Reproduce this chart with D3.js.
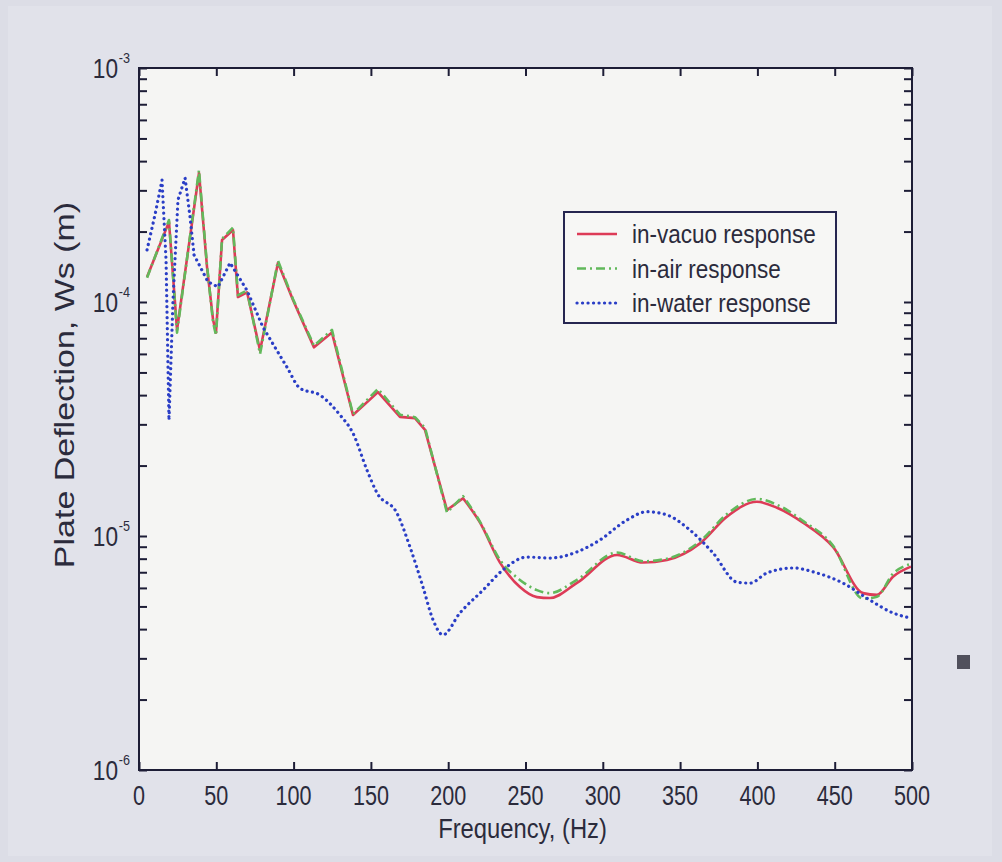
<!DOCTYPE html>
<html>
<head>
<meta charset="utf-8">
<script src="https://cdn.jsdelivr.net/npm/d3@7"></script>
<style>
  html, body { margin: 0; padding: 0; background: #dcdde6; }
  svg { display: block; }
  text { font-family: "Liberation Sans", Arial, sans-serif; fill: #2b2b3c; }
</style>
</head>
<body>
<svg id="chart" width="1002" height="862"></svg>
<script>
// Frequency (Hz) of each sample
const vacuoFreq = [5.2, 19.4, 24.6, 38.8, 44.0, 47.9, 49.8, 53.7, 60.8, 64.0, 69.9, 78.3, 89.9, 99.6,
  113.2, 124.8, 138.4, 154.6, 168.8, 178.5, 185.0, 199.2, 209.6, 220.6, 233.5, 246.4, 257.4, 265.8,
  283.3, 309.2, 326.0, 341.5, 362.9, 380.3, 399.7, 412.7, 429.5, 448.9, 468.3, 477.3, 487.7, 499.3];
// Plate deflection in vacuo (m)
const vacuoDefl = [1.28e-4, 2.20e-4, 7.6e-5, 3.56e-4, 1.41e-4, 8.4e-5, 7.4e-5, 1.84e-4, 2.03e-4, 1.05e-4,
  1.10e-4, 6.2e-5, 1.47e-4, 1.02e-4, 6.4e-5, 7.4e-5, 3.29e-5, 4.12e-5, 3.23e-5, 3.19e-5, 2.84e-5,
  1.29e-5, 1.45e-5, 1.14e-5, 7.7e-6, 6.05e-6, 5.48e-6, 5.43e-6, 6.3e-6, 8.3e-6, 7.7e-6, 7.9e-6,
  9.3e-6, 1.21e-5, 1.40e-5, 1.32e-5, 1.14e-5, 8.98e-6, 5.7e-6, 5.6e-6, 6.7e-6, 7.4e-6];

const airFreq = [5.2, 19.4, 24.6, 38.8, 44.0, 47.9, 49.8, 53.7, 60.8, 64.0, 69.9, 78.3, 89.9, 99.6,
  113.2, 124.8, 138.4, 154.6, 168.8, 178.5, 185.0, 199.2, 209.6, 220.6, 233.5, 246.4, 257.4, 265.8,
  283.3, 309.2, 326.0, 341.5, 362.9, 380.3, 399.7, 412.7, 429.5, 448.9, 468.3, 477.3, 487.7, 499.3];
// Plate deflection in air (m)
const airDefl = [1.27e-4, 2.24e-4, 7.4e-5, 3.66e-4, 1.43e-4, 8.2e-5, 7.2e-5, 1.86e-4, 2.08e-4, 1.07e-4,
  1.12e-4, 6.0e-5, 1.50e-4, 1.03e-4, 6.5e-5, 7.6e-5, 3.32e-5, 4.25e-5, 3.30e-5, 3.22e-5, 2.90e-5,
  1.26e-5, 1.48e-5, 1.15e-5, 7.9e-6, 6.49e-6, 5.87e-6, 5.7e-6, 6.5e-6, 8.5e-6, 7.8e-6, 8.0e-6,
  9.5e-6, 1.24e-5, 1.44e-5, 1.36e-5, 1.16e-5, 9.1e-6, 5.4e-6, 5.5e-6, 6.9e-6, 7.6e-6];

const waterFreq = [5.2, 10.3, 14.9, 17.5, 19.4, 22.0, 25.2, 29.8, 33.0, 35.6, 44.6, 51.1, 58.9, 69.9,
  80.2, 95.7, 104.1, 117.1, 130.0, 138.4, 147.5, 153.9, 166.9, 175.3, 183.7, 190.2, 196.6, 207.6,
  222.5, 235.4, 251.0, 265.8, 283.3, 298.2, 315.6, 328.6, 341.5, 356.4, 371.3, 386.8, 395.2, 406.2,
  423.0, 438.5, 455.4, 472.8, 487.7, 499.3];
// Plate deflection in water (m)
const waterDefl = [1.67e-4, 2.35e-4, 3.32e-4, 1.51e-4, 3.13e-5, 1.02e-4, 2.73e-4, 3.39e-4, 2.31e-4,
  1.59e-4, 1.22e-4, 1.16e-4, 1.47e-4, 1.12e-4, 7.8e-5, 5.27e-5, 4.28e-5, 4.0e-5, 3.29e-5, 2.75e-5,
  1.91e-5, 1.53e-5, 1.25e-5, 8.97e-6, 6.05e-6, 4.38e-6, 3.78e-6, 4.69e-6, 5.87e-6, 7.16e-6, 8.13e-6,
  8.05e-6, 8.55e-6, 9.62e-6, 1.17e-5, 1.27e-5, 1.23e-5, 1.06e-5, 8.46e-6, 6.35e-6, 6.29e-6, 6.95e-6,
  7.3e-6, 6.95e-6, 6.29e-6, 5.32e-6, 4.69e-6, 4.46e-6];

const xTicks = [0, 50, 100, 150, 200, 250, 300, 350, 400, 450, 500];
const yDecades = [1e-6, 1e-5, 1e-4, 1e-3];
const yExponents = ["-6", "-5", "-4", "-3"];
const seriesNames = ["in-vacuo response", "in-air response", "in-water response"];
const xTitle = "Frequency, (Hz)";
const yTitle = "Plate Deflection, Ws (m)";

const svg = d3.select("#chart");
const plot = { left: 139, right: 912, top: 68, bottom: 770 };

// soft panel behind the figure
svg.append("rect").attr("x", 0).attr("y", 0).attr("width", 1002).attr("height", 862).attr("fill", "#dcdde6");
svg.append("rect").attr("x", 8).attr("y", 6).attr("width", 984).attr("height", 850).attr("fill", "#e1e2ea");

const x = d3.scaleLinear().domain([0, 500]).range([plot.left, plot.right]);
const y = d3.scaleLog().domain([1e-6, 1e-3]).range([plot.bottom, plot.top]);

svg.append("rect")
  .attr("x", plot.left).attr("y", plot.top)
  .attr("width", plot.right - plot.left).attr("height", plot.bottom - plot.top)
  .attr("fill", "#f5f5f3");

const axisColor = "#1d1d36";
const tickLen = 8;

// x ticks on bottom and top, pointing inward
const xAxisBottom = d3.axisBottom(x).tickValues(xTicks).tickSizeInner(-tickLen).tickSizeOuter(0).tickFormat("");
const xAxisTop = d3.axisTop(x).tickValues(xTicks).tickSizeInner(-tickLen).tickSizeOuter(0).tickFormat("");
// y ticks (decades and 2..9 minors) on left and right, pointing inward
const yTickVals = y.ticks();
const yAxisLeft = d3.axisLeft(y).tickValues(yTickVals).tickSizeInner(-tickLen).tickSizeOuter(0).tickFormat("");
const yAxisRight = d3.axisRight(y).tickValues(yTickVals).tickSizeInner(-tickLen).tickSizeOuter(0).tickFormat("");

function styleAxis(g) {
  g.select(".domain").remove();
  g.selectAll(".tick line").attr("stroke", axisColor).attr("stroke-width", 2);
}
svg.append("g").attr("transform", `translate(0,${plot.bottom})`).call(xAxisBottom).call(styleAxis);
svg.append("g").attr("transform", `translate(0,${plot.top})`).call(xAxisTop).call(styleAxis);
svg.append("g").attr("transform", `translate(${plot.left},0)`).call(yAxisLeft).call(styleAxis);
svg.append("g").attr("transform", `translate(${plot.right},0)`).call(yAxisRight).call(styleAxis);

// x tick labels
svg.append("g").selectAll("text").data(xTicks).join("text")
  .attr("transform", d => `translate(${x(d)},${plot.bottom + 35}) scale(0.8,1)`)
  .attr("text-anchor", "middle")
  .attr("font-size", 27)
  .text(d => d);

// y tick labels: 10 with superscript exponent
const yLab = svg.append("g").selectAll("g").data(yDecades).join("g")
  .attr("transform", d => `translate(${plot.left - 21},${y(d) + 10}) scale(0.84,1)`);
yLab.append("text").attr("text-anchor", "end").attr("font-size", 27).text("10");
yLab.append("text").attr("x", 1).attr("y", -15).attr("font-size", 15).text((d, i) => yExponents[i]);

// axis titles
svg.append("text")
  .attr("transform", `translate(${(plot.left + plot.right) / 2 - 3},${838}) scale(0.85,1)`)
  .attr("text-anchor", "middle").attr("font-size", 28).text(xTitle);
svg.append("text")
  .attr("transform", `translate(${74},${385}) rotate(-90) scale(1,0.8)`)
  .attr("text-anchor", "middle").attr("font-size", 34).text(yTitle);

// curves: straight segments through the sharp low-frequency peaks,
// smooth interpolation through the broad high-frequency humps
const series = [
  { f: vacuoFreq, v: vacuoDefl, split: 209, color: "#dd3b57", dash: null, width: 2.6, cap: "butt" },
  { f: airFreq, v: airDefl, split: 209, color: "#62b95b", dash: "9,4,2,4", width: 2.6, cap: "butt" },
  { f: waterFreq, v: waterDefl, split: 70, color: "#2a3ec6", dash: "0.1,5.4", width: 3.2, cap: "round" }
];
const lineSharp = d3.line().x(d => x(d[0])).y(d => y(d[1])).curve(d3.curveLinear);
const lineSmooth = d3.line().x(d => x(d[0])).y(d => y(d[1])).curve(d3.curveMonotoneX);
function pathFor(s) {
  const pts = s.f.map((f, i) => [f, s.v[i]]);
  const k = pts.findIndex(p => p[0] >= s.split);
  const a = lineSharp(pts.slice(0, k + 1));
  const b = lineSmooth(pts.slice(k)).replace(/^M/, "L");
  return a + b;
}
svg.append("clipPath").attr("id", "plotclip").append("rect")
  .attr("x", plot.left).attr("y", plot.top)
  .attr("width", plot.right - plot.left).attr("height", plot.bottom - plot.top);
const curves = svg.append("g").attr("clip-path", "url(#plotclip)");
series.forEach(s => {
  curves.append("path")
    .attr("d", pathFor(s))
    .attr("fill", "none")
    .attr("stroke", s.color)
    .attr("stroke-width", s.width)
    .attr("stroke-linejoin", "round")
    .attr("stroke-linecap", s.cap)
    .attr("stroke-dasharray", s.dash);
});

// frame
svg.append("rect")
  .attr("x", plot.left).attr("y", plot.top)
  .attr("width", plot.right - plot.left).attr("height", plot.bottom - plot.top)
  .attr("fill", "none").attr("stroke", axisColor).attr("stroke-width", 2);

// legend
const lg = { x: 564, y: 212, w: 272, h: 111 };
svg.append("rect").attr("x", lg.x).attr("y", lg.y).attr("width", lg.w).attr("height", lg.h)
  .attr("fill", "#f7f7f5").attr("stroke", "#262650").attr("stroke-width", 2);
seriesNames.forEach((name, i) => {
  const yy = lg.y + 22 + i * 34.5;
  const s = series[i];
  svg.append("line").attr("x1", lg.x + 13).attr("x2", lg.x + 53).attr("y1", yy).attr("y2", yy)
    .attr("stroke", s.color).attr("stroke-width", s.width)
    .attr("stroke-linecap", s.cap)
    .attr("stroke-dasharray", s.dash);
  svg.append("text").attr("transform", `translate(${lg.x + 68},${yy + 9}) scale(0.9,1)`)
    .attr("font-size", 25).text(name);
});

// small square mark at the right edge
svg.append("rect").attr("x", 957).attr("y", 655).attr("width", 13).attr("height", 14)
  .attr("fill", "#50505c");
</script>
</body>
</html>
